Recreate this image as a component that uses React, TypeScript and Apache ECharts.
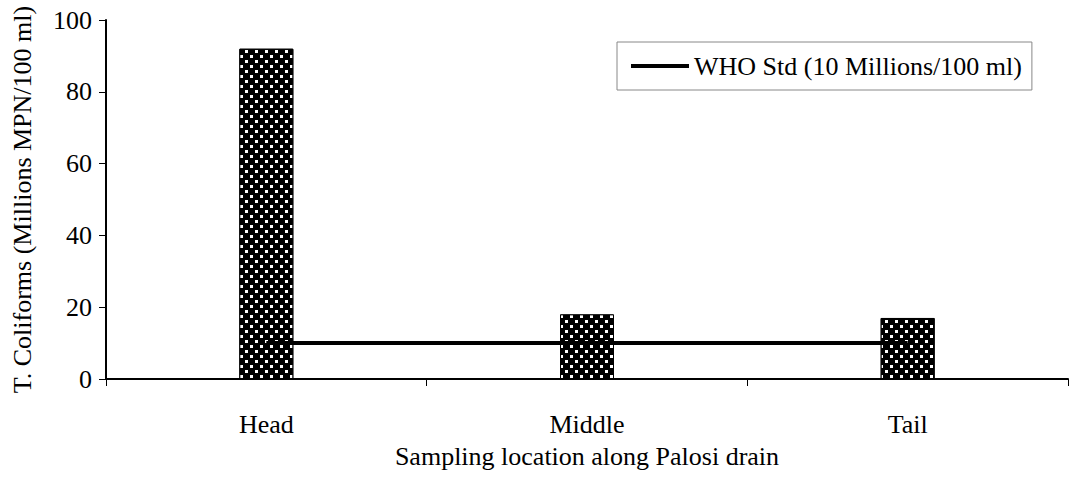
import React, { useEffect, useRef } from "react";
import * as echarts from "echarts";

const categories = ["Head", "Middle", "Tail"];
const coliformValues = [92, 18, 17];
const whoStdValues = [10, 10, 10];
const yTicks = { min: 0, max: 100, interval: 20 };
const legendLabel = "WHO Std (10 Millions/100 ml)";
const yAxisTitle = "T. Coliforms (Millions MPN/100 ml)";
const xAxisTitle = "Sampling location along Palosi drain";

const FONT = "'Liberation Serif', 'Times New Roman', serif";

export default function App() {
  const ref = useRef<HTMLDivElement>(null);
  useEffect(() => {
    if (!ref.current) return;
    const chart = echarts.init(ref.current, undefined, { renderer: "svg" });
    chart.setOption({
      animation: false,
      backgroundColor: "#fff",
      textStyle: { fontFamily: FONT, color: "#000" },
      grid: {
        left: 106,
        right: 2,
        top: 20,
        bottom: 99,
        containLabel: false,
        outerBoundsMode: "none",
      },
      legend: {
        data: [legendLabel],
        left: 617,
        top: 42,
        padding: [11, 10, 11, 14],
        borderColor: "#888",
        borderWidth: 1,
        itemWidth: 58,
        itemHeight: 4,
        icon: "rect",
        textStyle: { fontFamily: FONT, fontSize: 26, color: "#000" },
      },
      xAxis: {
        type: "category",
        data: categories,
        boundaryGap: true,
        name: xAxisTitle,
        nameLocation: "middle",
        nameGap: 64,
        nameTextStyle: { fontFamily: FONT, fontSize: 26, color: "#000" },
        axisLine: { lineStyle: { color: "#000", width: 2 } },
        axisTick: { show: true, length: 7, lineStyle: { color: "#000", width: 1 } },
        axisLabel: { fontFamily: FONT, fontSize: 26, color: "#000", margin: 32 },
      },
      yAxis: {
        type: "value",
        min: yTicks.min,
        max: yTicks.max,
        interval: yTicks.interval,
        name: yAxisTitle,
        nameLocation: "middle",
        nameGap: 71,
        nameTextStyle: { fontFamily: FONT, fontSize: 26, color: "#000" },
        axisLine: { show: true, lineStyle: { color: "#000", width: 2 } },
        axisTick: { show: true, length: 7, lineStyle: { color: "#000", width: 1 } },
        axisLabel: { fontFamily: FONT, fontSize: 26, color: "#000", margin: 14 },
        splitLine: { show: false },
      },
      series: [
        {
          type: "bar",
          name: "T. Coliforms",
          data: coliformValues,
          barWidth: 54,
          itemStyle: {
            color: "#000",
            borderColor: "#000",
            borderWidth: 1,
            decal: {
              symbol: "rect",
              symbolSize: 1,
              color: "#fff",
              backgroundColor: "#000",
              dashArrayX: [[3, 7], [0, 5, 3, 2]],
              dashArrayY: [3, 2],
              rotation: 0,
            },
          },
          z: 2,
        },
        {
          type: "line",
          name: legendLabel,
          data: whoStdValues,
          showSymbol: false,
          symbol: "none",
          lineStyle: { color: "#000", width: 4 },
          itemStyle: { color: "#000" },
          z: 3,
        },
      ],
    });
    return () => chart.dispose();
  }, []);
  return (
    <div
      ref={ref}
      style={{ position: "fixed", left: 0, top: 0, width: 1070, height: 478, background: "#fff" }}
    />
  );
}
